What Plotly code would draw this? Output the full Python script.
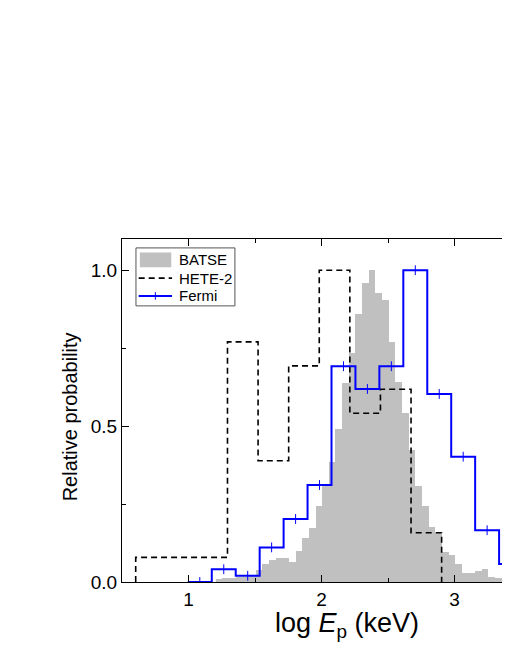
import numpy as np
import plotly.graph_objects as go

# BATSE histogram: bin left edges (log Ep) and relative probability
batse_left = np.round(1.205 + 0.05 * np.arange(45), 3)
batse_vals = [0.010, 0.012, 0.012, 0.015, 0.015, 0.020, 0.038, 0.058, 0.070, 0.076,
              0.076, 0.065, 0.100, 0.142, 0.172, 0.244, 0.311, 0.386, 0.490, 0.637,
              0.733, 0.861, 0.959, 1.000, 0.927, 0.904, 0.770, 0.642, 0.541, 0.423,
              0.308, 0.244, 0.175, 0.158, 0.097, 0.087, 0.058, 0.028, 0.028, 0.035,
              0.041, 0.015, 0.012, 0.019, 0.019]
batse_width = 0.05

# HETE-2 step histogram
hete_edges = [0.603, 0.833, 1.063, 1.293, 1.523, 1.753, 1.983, 2.213, 2.443, 2.673, 2.903]
hete_vals = [0.079, 0.079, 0.079, 0.770, 0.389, 0.693, 1.000, 0.541, 0.618, 0.158]

# Fermi step histogram
fermi_edges = [0.995, 1.175, 1.355, 1.535, 1.715, 1.895, 2.075, 2.255, 2.435,
               2.615, 2.795, 2.975, 3.155, 3.335, 3.515]
fermi_vals = [0.0, 0.041, 0.020, 0.111, 0.202, 0.311, 0.692, 0.619, 0.692,
              1.000, 0.603, 0.402, 0.166, 0.058]

series_names = ["BATSE", "HETE-2", "Fermi"]
x_ticks = [1, 2, 3]
y_ticks = [0.0, 0.5, 1.0]


def step(edges, vals):
    xs = [edges[0]] + list(edges[:-1]) + [edges[-1]]
    ys = [0] + list(vals) + [0]
    return xs, ys


FONT = "Liberation Sans, Arial, sans-serif"
GRAY = "#c0c0c0"
BLUE = "#0000ff"
DASH = "6px,4px"

fig = go.Figure()

batse_centers = batse_left + batse_width / 2
fig.add_trace(go.Bar(x=batse_centers, y=batse_vals, width=batse_width,
                     marker=dict(color=GRAY, line=dict(width=0)), name=series_names[0]))

hx, hy = step(hete_edges, hete_vals)
fig.add_trace(go.Scatter(x=hx, y=hy, mode="lines", line_shape="hv", name=series_names[1],
                         line=dict(color="black", width=1.6, dash=DASH)))

fx, fy = step(fermi_edges, fermi_vals)
fig.add_trace(go.Scatter(x=fx, y=fy, mode="lines", line_shape="hv",
                         line=dict(color=BLUE, width=2), name=series_names[2]))
fermi_centers = [(a + b) / 2 for a, b in zip(fermi_edges[:-1], fermi_edges[1:])]
fig.add_trace(go.Scatter(x=fermi_centers, y=fermi_vals, mode="markers",
                         marker=dict(symbol="line-ns", size=7,
                                     line=dict(color=BLUE, width=1)), name=series_names[2]))

# ---- hand-drawn legend (paper coordinates) ----
L_X0, L_X1, L_Y0, L_Y1 = 0.036, 0.291, 0.805, 0.974
ROW_Y = [0.939, 0.886, 0.834]
SW_X0, SW_X1 = 0.043, 0.129
TXT_X = 0.141
shapes = [
    dict(type="rect", xref="paper", yref="paper", x0=L_X0, x1=L_X1, y0=L_Y0, y1=L_Y1,
         line=dict(color="#555", width=1), fillcolor="white"),
    dict(type="rect", xref="paper", yref="paper", x0=0.046, x1=0.127,
         y0=ROW_Y[0] - 0.021, y1=ROW_Y[0] + 0.022, line=dict(width=0), fillcolor=GRAY),
    dict(type="line", xref="paper", yref="paper", x0=SW_X0, x1=SW_X1,
         y0=ROW_Y[1], y1=ROW_Y[1], line=dict(color="black", width=1.6, dash=DASH)),
    dict(type="line", xref="paper", yref="paper", x0=SW_X0, x1=SW_X1,
         y0=ROW_Y[2], y1=ROW_Y[2], line=dict(color=BLUE, width=2)),
    dict(type="line", xref="paper", yref="paper", x0=0.086, x1=0.086,
         y0=ROW_Y[2] - 0.011, y1=ROW_Y[2] + 0.011, line=dict(color=BLUE, width=1)),
]
annotations = [
    dict(text=name, xref="paper", yref="paper", x=TXT_X, y=yy, xanchor="left",
         yanchor="middle", showarrow=False, font=dict(size=15, family=FONT))
    for name, yy in zip(series_names, ROW_Y)
]
annotations += [
    dict(text="log <i>E</i><sub>p</sub> (keV)", xref="paper", yref="paper",
         x=0.58, y=-0.125, xanchor="center", yanchor="middle", showarrow=False,
         font=dict(size=27, family=FONT)),
    dict(text="Relative probability", xref="paper", yref="paper",
         x=-0.134, y=0.48, xanchor="center", yanchor="middle", showarrow=False,
         textangle=-90, font=dict(size=20, family=FONT)),
]

fig.update_layout(
    width=502, height=644,
    margin=dict(l=114, r=0, t=231, b=70),
    paper_bgcolor="white", plot_bgcolor="white",
    font=dict(family=FONT, color="black"),
    bargap=0,
    showlegend=False,
    shapes=shapes,
    annotations=annotations,
    xaxis=dict(range=[0.5, 3.417], tickmode="array", tickvals=x_ticks,
               ticktext=[str(v) for v in x_ticks],
               ticks="inside", ticklen=7, tickwidth=1, tickcolor="black",
               showline=True, linecolor="black", linewidth=1, mirror="ticks",
               showgrid=False, zeroline=False, tickfont=dict(size=19),
               minor=dict(tickvals=[0.5, 1.5, 2.5, 3.5], ticks="inside", ticklen=4,
                          tickcolor="black", showgrid=False)),
    yaxis=dict(range=[0, 1.1], tickmode="array", tickvals=y_ticks,
               ticktext=[f"{v:.1f}" for v in y_ticks],
               ticks="inside", ticklen=7, tickwidth=1, tickcolor="black",
               showline=True, linecolor="black", linewidth=1, mirror=False,
               showgrid=False, zeroline=False, tickfont=dict(size=19),
               minor=dict(tickvals=[0.25, 0.75], ticks="inside", ticklen=4,
                          tickcolor="black", showgrid=False)),
)

fig.write_html("out.html")
